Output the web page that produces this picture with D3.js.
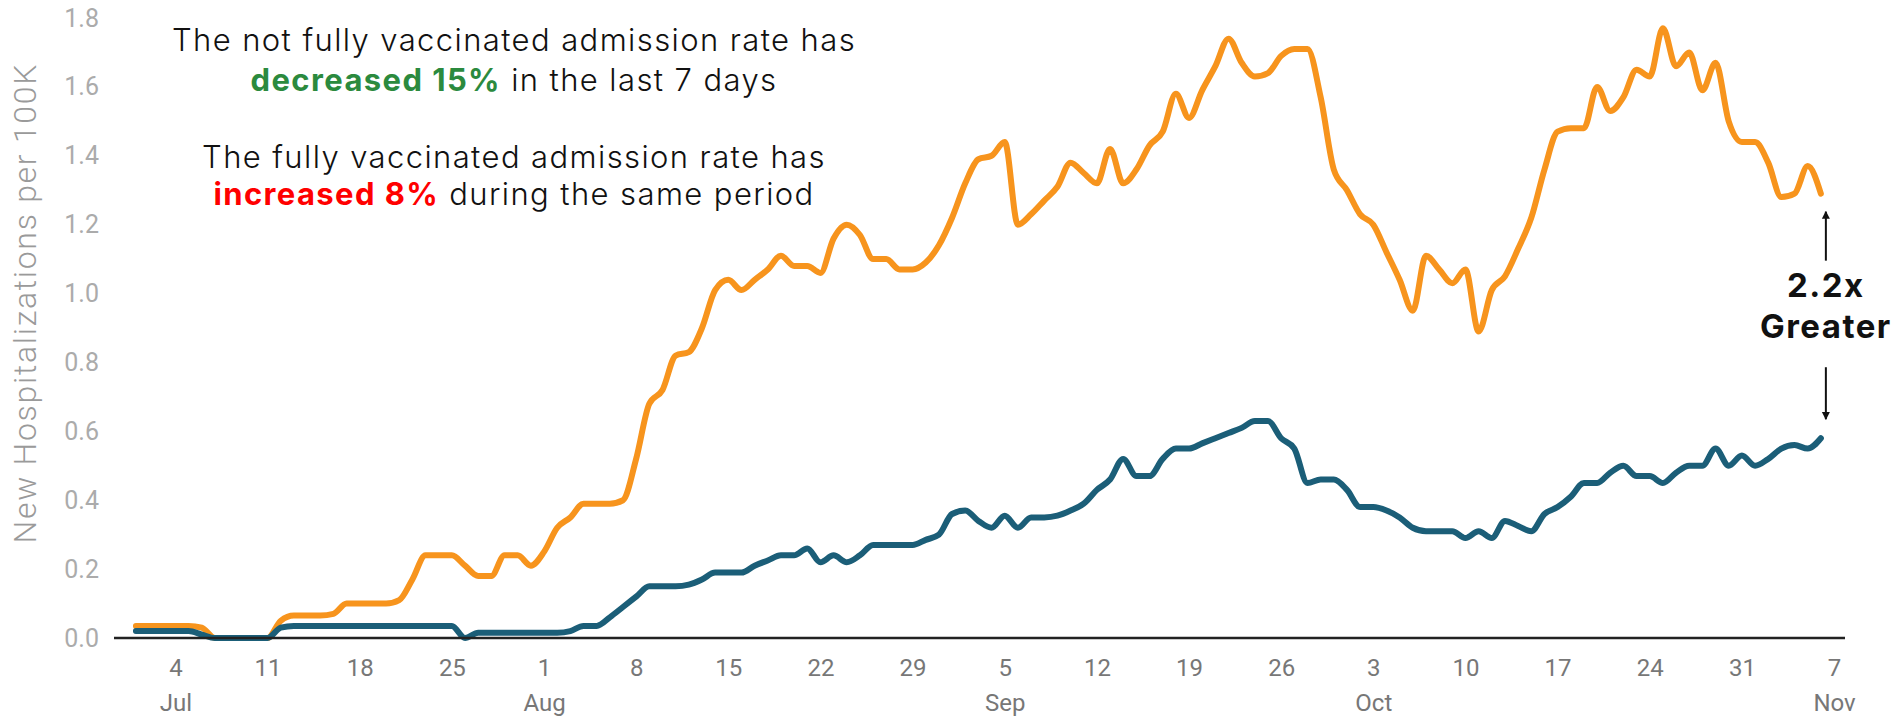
<!DOCTYPE html>
<html>
<head>
<meta charset="utf-8">
<script src="https://cdn.jsdelivr.net/npm/d3@7"></script>
<style>
  body { margin: 0; background: #fff; }
  svg { display: block; }
</style>
</head>
<body>
<div id="chart"></div>
<script>
// daily values, Jul 1 2021 .. Nov 6 2021
const firstDay = new Date(2021, 6, 1);
const lastDay = new Date(2021, 10, 6);

const notFullyVaccinated = [
  0.035, 0.035, 0.035, 0.035, 0.035, 0.03, 0, 0, 0, 0,
  0, 0.05, 0.065, 0.065, 0.065, 0.07, 0.1, 0.1, 0.1, 0.1,
  0.11, 0.17, 0.24, 0.24, 0.24, 0.21, 0.18, 0.18, 0.24, 0.24,
  0.21, 0.25, 0.32, 0.35, 0.39, 0.39, 0.39, 0.40, 0.52, 0.68,
  0.72, 0.82, 0.83, 0.90, 1.01, 1.04, 1.01, 1.04, 1.07, 1.11,
  1.08, 1.08, 1.06, 1.16, 1.20, 1.17, 1.10, 1.10, 1.07, 1.07,
  1.09, 1.14, 1.22, 1.32, 1.39, 1.40, 1.44, 1.20, 1.23, 1.27,
  1.31, 1.38, 1.35, 1.32, 1.42, 1.32, 1.36, 1.43, 1.47, 1.58,
  1.51, 1.59, 1.66, 1.74, 1.67, 1.63, 1.64, 1.69, 1.71, 1.71,
  1.57, 1.36, 1.30, 1.23, 1.20, 1.12, 1.04, 0.95, 1.11, 1.07,
  1.03, 1.07, 0.89, 1.01, 1.05, 1.13, 1.22, 1.36, 1.47, 1.48,
  1.48, 1.60, 1.53, 1.57, 1.65, 1.63, 1.77, 1.66, 1.70, 1.59,
  1.67, 1.50, 1.44, 1.44, 1.38, 1.28, 1.29, 1.37, 1.29
];

const fullyVaccinated = [
  0.02, 0.02, 0.02, 0.02, 0.02, 0.01, 0, 0, 0, 0,
  0, 0.03, 0.035, 0.035, 0.035, 0.035, 0.035, 0.035, 0.035, 0.035,
  0.035, 0.035, 0.035, 0.035, 0.035, 0, 0.015, 0.015, 0.015, 0.015,
  0.015, 0.015, 0.015, 0.02, 0.035, 0.035, 0.06, 0.09, 0.12, 0.15,
  0.15, 0.15, 0.155, 0.17, 0.19, 0.19, 0.19, 0.21, 0.225, 0.24,
  0.24, 0.26, 0.22, 0.24, 0.22, 0.24, 0.27, 0.27, 0.27, 0.27,
  0.285, 0.30, 0.36, 0.37, 0.34, 0.32, 0.355, 0.32, 0.35, 0.35,
  0.355, 0.37, 0.39, 0.43, 0.46, 0.52, 0.47, 0.47, 0.52, 0.55,
  0.55, 0.565, 0.58, 0.595, 0.61, 0.63, 0.63, 0.58, 0.55, 0.45,
  0.46, 0.46, 0.43, 0.38, 0.38, 0.37, 0.35, 0.32, 0.31, 0.31,
  0.31, 0.29, 0.31, 0.29, 0.34, 0.325, 0.31, 0.36, 0.38, 0.41,
  0.45, 0.45, 0.48, 0.50, 0.47, 0.47, 0.45, 0.48, 0.50, 0.50,
  0.55, 0.50, 0.53, 0.50, 0.52, 0.55, 0.56, 0.55, 0.58
];

const yTicks = [0, 0.2, 0.4, 0.6, 0.8, 1.0, 1.2, 1.4, 1.6, 1.8];

const noteLines = [
  [{ text: 'The not fully vaccinated admission rate has' }],
  [{ text: 'decreased 15%', color: '#2b8a3e', bold: true }, { text: ' in the last 7 days' }],
  [{ text: 'The fully vaccinated admission rate has' }],
  [{ text: 'increased 8%', color: '#ff0000', bold: true }, { text: ' during the same period' }]
];
const ratioLabel = ['2.2x', 'Greater'];

const width = 1897, height = 716;
const orange = '#f7941d', teal = '#1b5e78';

const dates = d3.timeDay.range(firstDay, d3.timeDay.offset(lastDay, 1));
const seriesA = dates.map((d, i) => ({ date: d, value: notFullyVaccinated[i] }));
const seriesB = dates.map((d, i) => ({ date: d, value: fullyVaccinated[i] }));

const svg = d3.select('#chart')
  .append('svg')
  .attr('width', width)
  .attr('height', height)
  .style('background', '#fff');

const x = d3.scaleTime()
  .domain([new Date(2021, 5, 29, 8), new Date(2021, 10, 7, 20)])
  .range([114, 1845]);

const y = d3.scaleLinear()
  .domain([0, 1.8])
  .range([638, 18]);

// y axis labels
svg.append('g')
  .attr('transform', `translate(${x.range()[0]},0)`)
  .call(d3.axisLeft(y).tickValues(yTicks).tickFormat(d3.format('.1f')).tickSize(0).tickPadding(15))
  .call(g => g.select('.domain').remove())
  .call(g => g.selectAll('.tick text')
    .attr('fill', '#ababab')
    .style('font-family', 'Roboto, sans-serif')
    .style('font-size', '25px'));

// y axis title
svg.append('text')
  .attr('transform', `translate(36,${(y(0) + y(1.8)) / 2 - 24}) rotate(-90)`)
  .attr('text-anchor', 'middle')
  .attr('fill', '#9a9a9a')
  .attr('textLength', 479)
  .style('font-family', 'Roboto, sans-serif')
  .style('font-weight', 300)
  .style('font-size', '32px')
  .text('New Hospitalizations per 100K');

// x axis, weekly ticks with month under the first week of each month
const xAxis = svg.append('g')
  .attr('transform', `translate(0,${y(0)})`)
  .call(d3.axisBottom(x).ticks(d3.timeSunday.every(1)).tickSize(0).tickFormat(''))
  .call(g => g.select('.domain').remove());

xAxis.selectAll('.tick text')
  .attr('y', 38)
  .attr('dy', null)
  .attr('fill', '#777')
  .style('font-family', 'Roboto, sans-serif')
  .style('font-size', '24px')
  .each(function (d) {
    const t = d3.select(this);
    t.append('tspan').attr('x', 0).text(d.getDate());
    if (d.getDate() <= 7) {
      t.append('tspan').attr('x', 0).attr('dy', 35).text(d3.timeFormat('%b')(d));
    }
  });

// lines
const line = d3.line()
  .x(d => x(d.date))
  .y(d => y(d.value))
  .curve(d3.curveMonotoneX);

svg.append('path')
  .datum(seriesA)
  .attr('d', line)
  .attr('fill', 'none')
  .attr('stroke', orange)
  .attr('stroke-width', 6)
  .attr('stroke-linejoin', 'round')
  .attr('stroke-linecap', 'round');

svg.append('path')
  .datum(seriesB)
  .attr('d', line)
  .attr('fill', 'none')
  .attr('stroke', teal)
  .attr('stroke-width', 6)
  .attr('stroke-linejoin', 'round')
  .attr('stroke-linecap', 'round');

// baseline
svg.append('line')
  .attr('x1', x.range()[0])
  .attr('x2', x.range()[1])
  .attr('y1', y(0))
  .attr('y2', y(0))
  .attr('stroke', '#222')
  .attr('stroke-width', 2.5);

// annotation text block
const note = svg.append('g')
  .style('font-family', 'Inter, sans-serif')
  .style('font-size', '31px')
  .style('letter-spacing', '1.4px');
const noteBaselines = [51, 91, 168, 205];
noteLines.forEach((parts, i) => {
  const t = note.append('text')
    .attr('x', 514)
    .attr('y', noteBaselines[i])
    .attr('text-anchor', 'middle')
    .attr('fill', '#111');
  parts.forEach(p => {
    t.append('tspan')
      .attr('fill', p.color || '#111')
      .style('font-weight', p.bold ? 700 : 300)
      .text(p.text);
  });
});

// ratio callout at the last data point
const lastA = seriesA[seriesA.length - 1];
const lastB = seriesB[seriesB.length - 1];
const ax = x(lastA.date) + 5;

svg.append('defs').append('marker')
  .attr('id', 'head')
  .attr('viewBox', '0 0 10 10')
  .attr('refX', 9)
  .attr('refY', 5)
  .attr('markerWidth', 4)
  .attr('markerHeight', 5)
  .attr('orient', 'auto')
  .append('path')
  .attr('d', 'M0,0 L10,5 L0,10 Z')
  .attr('fill', '#111');

svg.append('line')
  .attr('x1', ax).attr('x2', ax)
  .attr('y1', y(lastA.value) + 67).attr('y2', y(lastA.value) + 18)
  .attr('stroke', '#111')
  .attr('stroke-width', 2)
  .attr('marker-end', 'url(#head)');

svg.append('line')
  .attr('x1', ax).attr('x2', ax)
  .attr('y1', y(lastB.value) - 71).attr('y2', y(lastB.value) - 19)
  .attr('stroke', '#111')
  .attr('stroke-width', 2)
  .attr('marker-end', 'url(#head)');

svg.append('g')
  .selectAll('text')
  .data(ratioLabel)
  .join('text')
  .attr('x', ax)
  .attr('y', (d, i) => 297 + i * 41)
  .attr('text-anchor', 'middle')
  .attr('fill', '#111')
  .style('font-family', 'Inter, sans-serif')
  .style('font-weight', 700)
  .style('font-size', '33px')
  .style('letter-spacing', '1.5px')
  .text(d => d);
</script>
</body>
</html>
